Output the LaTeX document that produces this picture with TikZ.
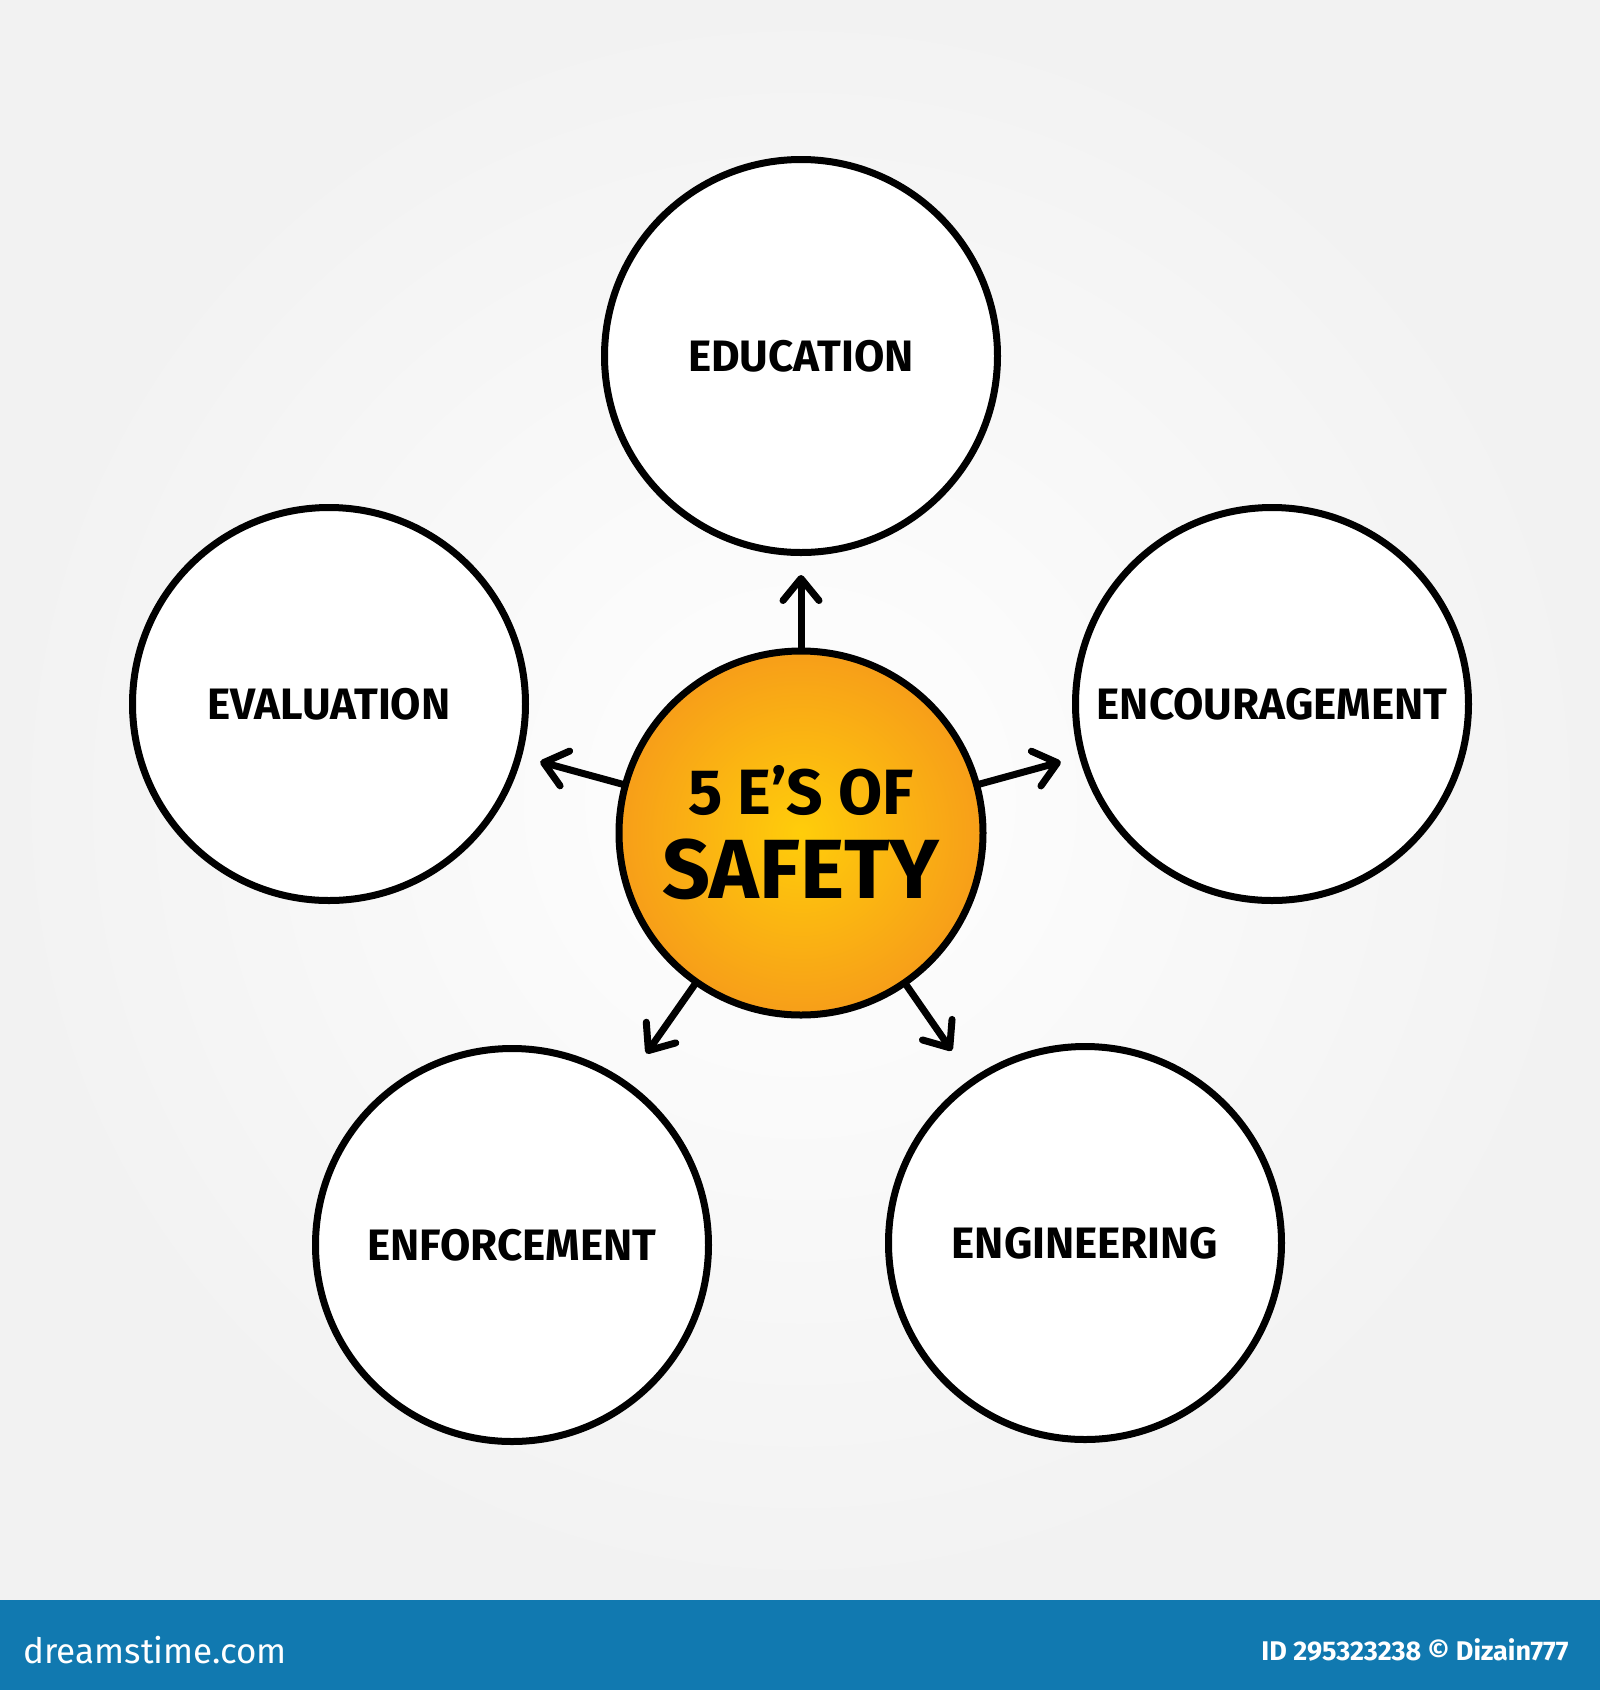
\documentclass[tikz,border=0pt]{standalone}
\usepackage{fontspec}
\setmainfont{Fira Sans}
\usetikzlibrary{arrows.meta}
\definecolor{bannerblue}{RGB}{17,121,176}
\definecolor{hubin}{RGB}{255,205,10}
\definecolor{hubout}{RGB}{247,158,25}
\definecolor{bgedge}{RGB}{242,242,242}

\begin{document}
\begin{tikzpicture}[x=1pt,y=-1pt]
    \tikzset{topic/.style={circle,draw=black,line width=7pt,fill=white,minimum size=393pt,inner sep=0pt,font=\fontsize{44}{48}\selectfont\bfseries}}
    \tikzset{hub/.style={circle,draw=black,line width=7pt,inner color=hubin,outer color=hubout,minimum size=364pt,inner sep=0pt,align=center}}
    \tikzset{spoke/.style={line width=7pt,line cap=round,-{Straight Barb[length=22pt,width=36pt,round]}}}
    \useasboundingbox (0,0) rectangle (1600,1690);
    \fill [inner color=white,outer color=bgedge] (0,0) rectangle (1600,1600);
    \fill [bannerblue] (0,1600) rectangle (1600,1690);
    \node [hub] (safety) at (801,833) {{\fontsize{64}{64}\selectfont\bfseries 5 E'S OF}\\[22pt]{\fontsize{84}{84}\selectfont\bfseries SAFETY}};
    \node [topic] (edu) at (801,356) {EDUCATION};
    \node [topic] (eval) at (329,704) {EVALUATION};
    \node [topic] (enc) at (1272,704) {ENCOURAGEMENT};
    \node [topic] (enf) at (512,1245) {ENFORCEMENT};
    \node [topic] (eng) at (1085,1243) {ENGINEERING};
    \draw [spoke,shorten >=19pt] (safety) -- (edu);
    \draw [spoke,shorten >=19pt] (safety) -- (eval);
    \draw [spoke,shorten >=19pt] (safety) -- (enc);
    \draw [spoke,shorten >=34pt] (safety) -- (enf);
    \draw [spoke,shorten >=34pt] (safety) -- (eng);
    \node [anchor=west,text=white,font=\fontsize{35}{35}\selectfont] (logo) at (20,1650) {dreamstime.com};
    \node [anchor=east,text=white,font=\fontsize{27}{27}\selectfont\bfseries] (credit) at (1572,1650) {ID 295323238 © Dizain777};
\end{tikzpicture}
\end{document}
